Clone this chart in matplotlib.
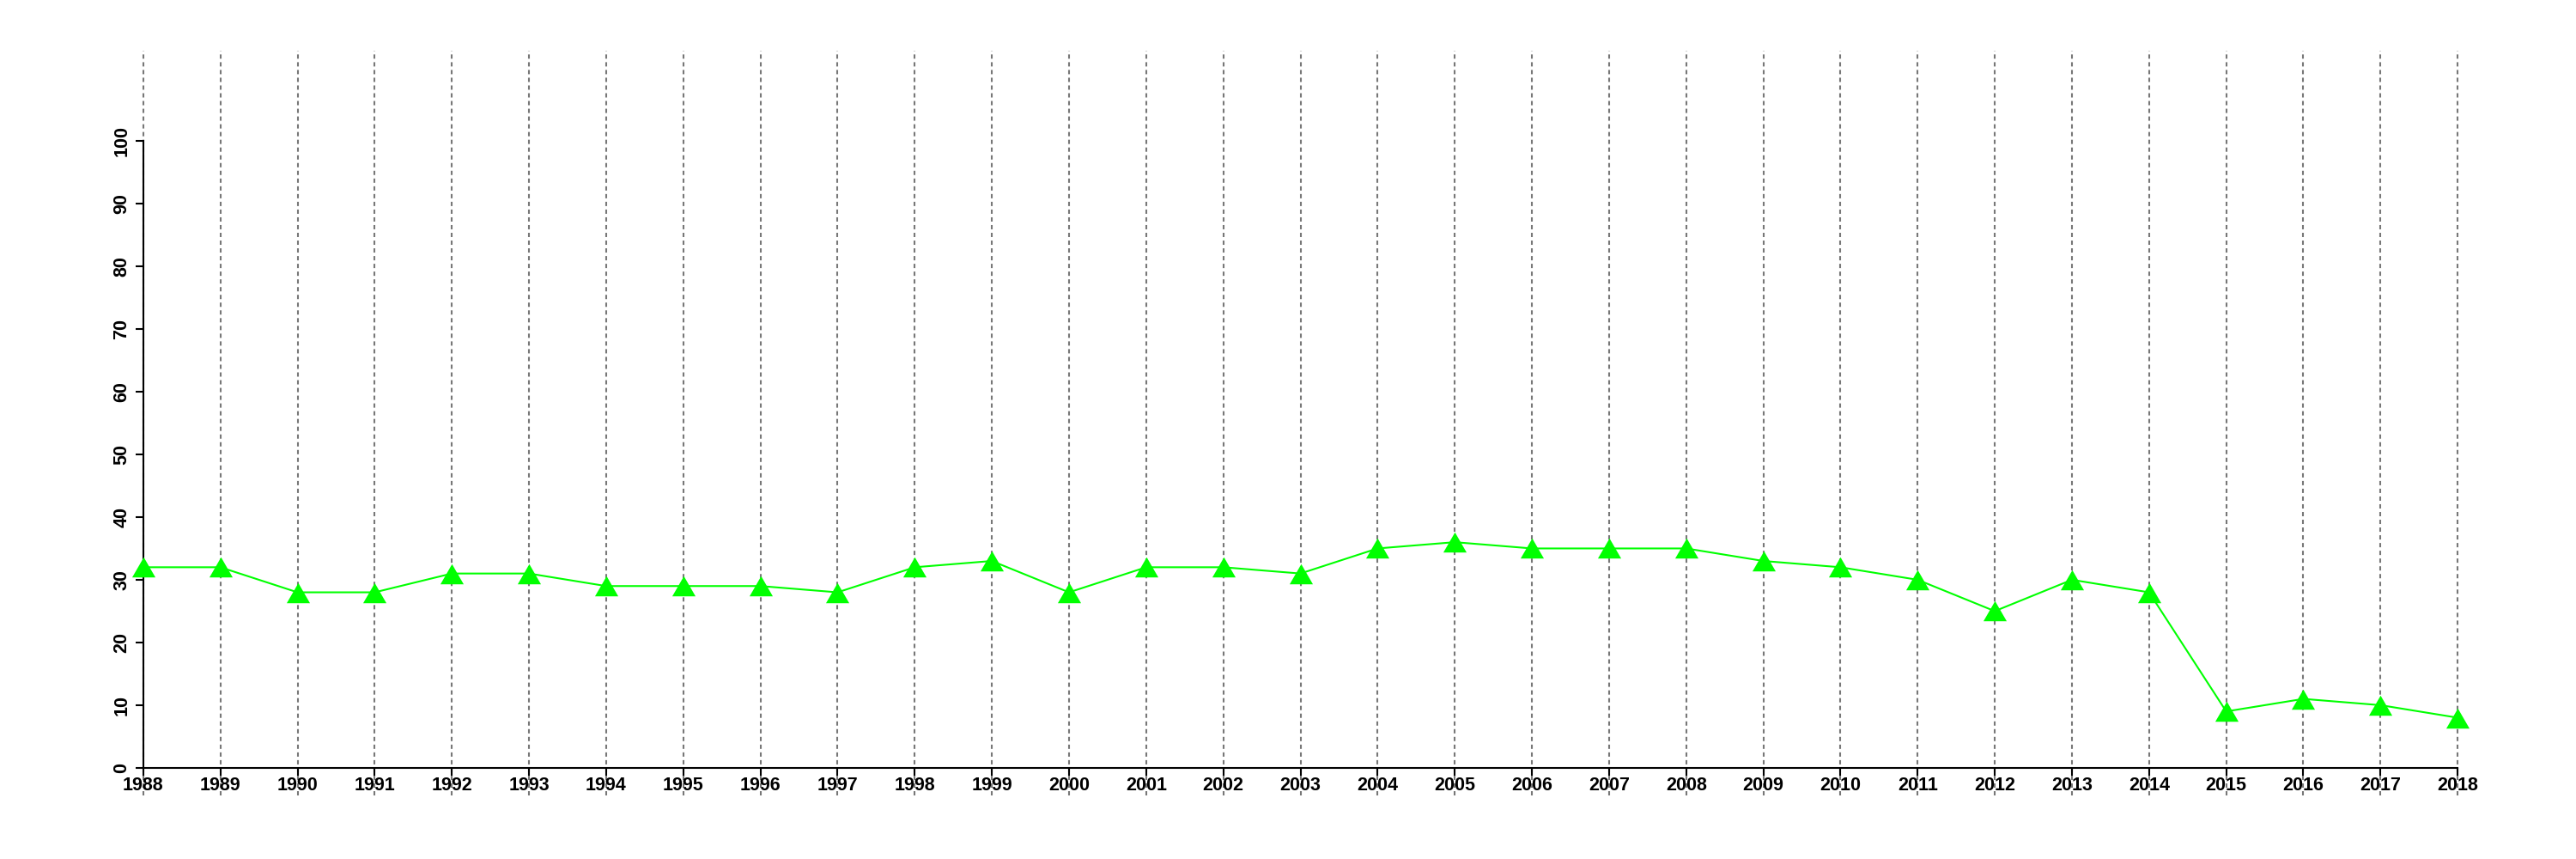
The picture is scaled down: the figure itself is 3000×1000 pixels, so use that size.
import matplotlib
matplotlib.use("Agg")
import matplotlib.pyplot as plt

years = list(range(1988, 2019))
values = [32, 32, 28, 28, 31, 31, 29, 29, 29, 28, 32, 33, 28, 32, 32, 31,
          35, 36, 35, 35, 35, 33, 32, 30, 25, 30, 28, 9, 11, 10, 8]
y_ticks = [0, 10, 20, 30, 40, 50, 60, 70, 80, 90, 100]

plt.rcParams['font.family'] = ['Liberation Sans', 'DejaVu Sans']
plt.rcParams['lines.scale_dashes'] = False

fig = plt.figure(figsize=(30, 10), dpi=100)
ax = fig.add_axes([59/3000, 1 - 926/1000, (2970 - 59)/3000, (926 - 59)/1000])

ax.set_xlim(1988 - 0.04 * 30, 2018 + 0.04 * 30)
ax.set_ylim(-0.04 * 110, 110 * 1.04)

for yr in years:
    ax.axvline(yr, color='#777777', lw=1.5, linestyle=(0, (3.6, 2.9)), zorder=1)

tri = [(-1, -0.866), (1, -0.866), (0, 0.866), (-1, -0.866)]
ax.plot(years, values, color='#00FF00', lw=1.5, marker=tri, markersize=19.5,
        markerfacecolor='#00FF00', markeredgecolor='#00FF00', markeredgewidth=0,
        zorder=3)

for s in ['top', 'right']:
    ax.spines[s].set_visible(False)
ax.spines['left'].set_position(('data', 1988))
ax.spines['bottom'].set_position(('data', 0))
ax.spines['left'].set_bounds(0, 100)
ax.spines['bottom'].set_bounds(1988, 2018)
for s in ['left', 'bottom']:
    ax.spines[s].set_linewidth(1.5)
    ax.spines[s].set_zorder(2)

ax.set_xticks(years)
ax.set_xticklabels([str(y) for y in years])
ax.set_yticks(y_ticks)
ax.set_yticklabels([str(v) for v in y_ticks], rotation=90, va='center')
ax.tick_params(axis='both', direction='out', length=6.5, width=1.5,
               labelsize=15.5)
ax.tick_params(axis='x', pad=1)
ax.tick_params(axis='y', pad=4)
for lab in ax.get_xticklabels() + ax.get_yticklabels():
    lab.set_fontweight('bold')

fig.savefig('out.png', dpi=100)
